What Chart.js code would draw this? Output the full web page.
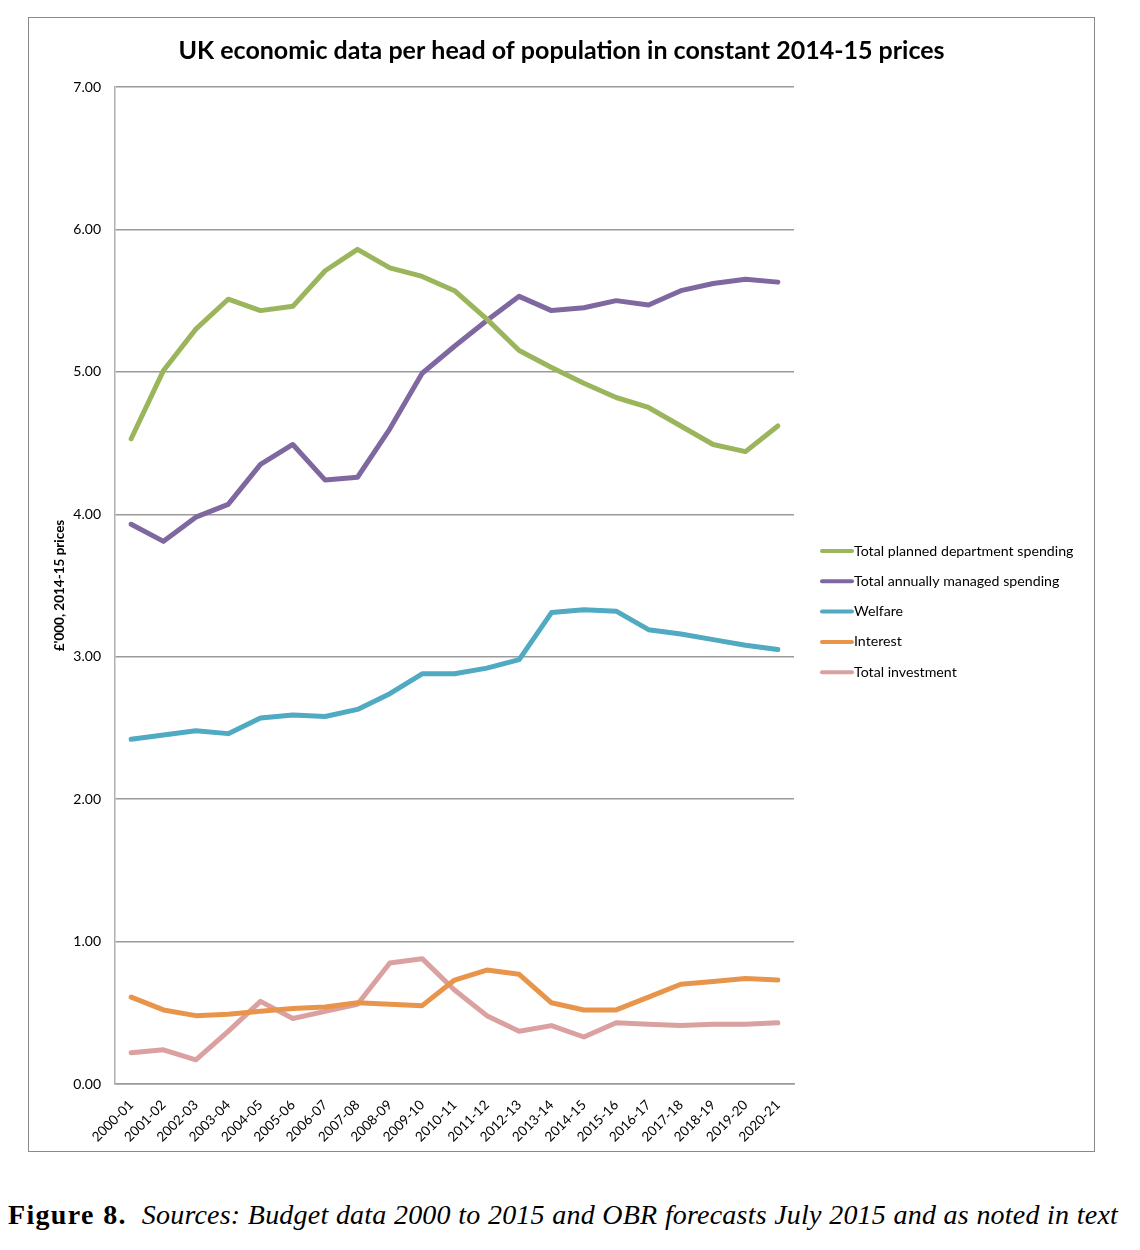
<!DOCTYPE html>
<html>
<head>
<meta charset="utf-8">
<script src="https://cdn.jsdelivr.net/npm/chart.js@4/dist/chart.umd.min.js"></script>
<style>
  body { margin:0; background:#fff; }
  #box { position:absolute; left:28px; top:17px; width:1065px; height:1133px; border:1px solid #8a8a8a; }
  #grafico { position:absolute; left:0; top:0; }
  #legenda { position:absolute; left:8px; top:1199px; width:1110px; font-family:"Liberation Serif", serif; font-size:28px; color:#000;
             text-align:justify; text-align-last:justify; white-space:nowrap; letter-spacing:0.2px; }
  #legenda b { letter-spacing:1.3px; }
</style>
</head>
<body>
<div id="box"><canvas id="grafico" width="1065" height="1133"></canvas></div>
<div id="legenda"><b>Figure 8.</b>&nbsp; <i>Sources: Budget data 2000 to 2015 and OBR forecasts July 2015 and as noted in text</i></div>
<script>
const anos = ["2000-01","2001-02","2002-03","2003-04","2004-05","2005-06","2006-07","2007-08","2008-09","2009-10",
              "2010-11","2011-12","2012-13","2013-14","2014-15","2015-16","2016-17","2017-18","2018-19","2019-20","2020-21"];
const departamentos = [4.53,5.01,5.30,5.51,5.43,5.46,5.71,5.86,5.73,5.67,5.57,5.37,5.15,5.03,4.92,4.82,4.75,4.62,4.49,4.44,4.62];
const gerenciado = [3.93,3.81,3.98,4.07,4.35,4.49,4.24,4.26,4.60,4.99,5.18,5.36,5.53,5.43,5.45,5.50,5.47,5.57,5.62,5.65,5.63];
const bemEstar = [2.42,2.45,2.48,2.46,2.57,2.59,2.58,2.63,2.74,2.88,2.88,2.92,2.98,3.31,3.33,3.32,3.19,3.16,3.12,3.08,3.05];
const juros = [0.61,0.52,0.48,0.49,0.51,0.53,0.54,0.57,0.56,0.55,0.73,0.80,0.77,0.57,0.52,0.52,0.61,0.70,0.72,0.74,0.73];
const investimento = [0.22,0.24,0.17,0.37,0.58,0.46,0.51,0.56,0.85,0.88,0.66,0.48,0.37,0.41,0.33,0.43,0.42,0.41,0.42,0.42,0.43];
const nomes = ["Total planned department spending","Total annually managed spending","Welfare","Interest","Total investment"];
const cores = ["#9bb55c","#7f67a0","#4faac2","#e8954b","#dba0a0"];
const titulo = "UK economic data per head of population in constant 2014-15 prices";
const fonte = "Lato, 'Open Sans', sans-serif";

// título centrado no canvas inteiro e legenda à direita, desenhados à mão
const extrasPlugin = {
  id:"extras",
  afterDraw(chart){
    const ctx = chart.ctx;
    ctx.save();
    ctx.fillStyle = "#000";
    ctx.font = "bold 25px " + fonte;
    ctx.textAlign = "center";
    ctx.textBaseline = "middle";
    ctx.fillText(titulo, chart.width/2, 33);
    ctx.textAlign = "left";
    chart.data.datasets.forEach((ds,i)=>{
      const y = 533 + i*30.3;
      ctx.strokeStyle = ds.borderColor;
      ctx.lineWidth = 4;
      ctx.lineCap = "round";
      ctx.beginPath(); ctx.moveTo(793,y); ctx.lineTo(823,y); ctx.stroke();
      ctx.fillStyle = "#000";
      ctx.font = "14.2px " + fonte;
      ctx.fillText(ds.label, 825, y);
    });
    ctx.restore();
  }
};

const series = [departamentos, gerenciado, bemEstar, juros, investimento];
new Chart(document.getElementById("grafico"),{
  type:"line",
  data:{
    labels: anos,
    datasets: series.map((d,i)=>({
      label:nomes[i], data:d, borderColor:cores[i], backgroundColor:cores[i],
      borderWidth:5, pointRadius:0, tension:0, borderCapStyle:"round", borderJoinStyle:"round"
    }))
  },
  options:{
    responsive:false,
    animation:false,
    layout:{padding:{left:0,right:300,top:69,bottom:0}},
    plugins:{
      legend:{display:false},
      tooltip:{enabled:false},
      title:{display:false}
    },
    scales:{
      x:{
        offset:true,
        grid:{display:false, drawTicks:false},
        border:{color:"#9a9a9a", width:1.5},
        ticks:{color:"#000", font:{family:fonte, size:13.5}, minRotation:45, maxRotation:45, autoSkip:false, padding:13},
        afterFit(s){ s.height = 67; }
      },
      y:{
        min:0, max:7,
        grid:{color:"#9a9a9a", lineWidth:1.5, drawTicks:false},
        border:{color:"#b0b0b0", width:1.5},
        ticks:{stepSize:1, color:"#000", font:{family:fonte, size:14}, padding:14, callback:v=>v.toFixed(2)},
        title:{display:true, text:"£'000, 2014-15 prices", color:"#000", font:{family:fonte, size:13.5, weight:"bold"}, padding:{top:23,bottom:0}},
        afterFit(s){ s.width = 86; }
      }
    }
  },
  plugins:[extrasPlugin]
});
</script>
</body>
</html>
